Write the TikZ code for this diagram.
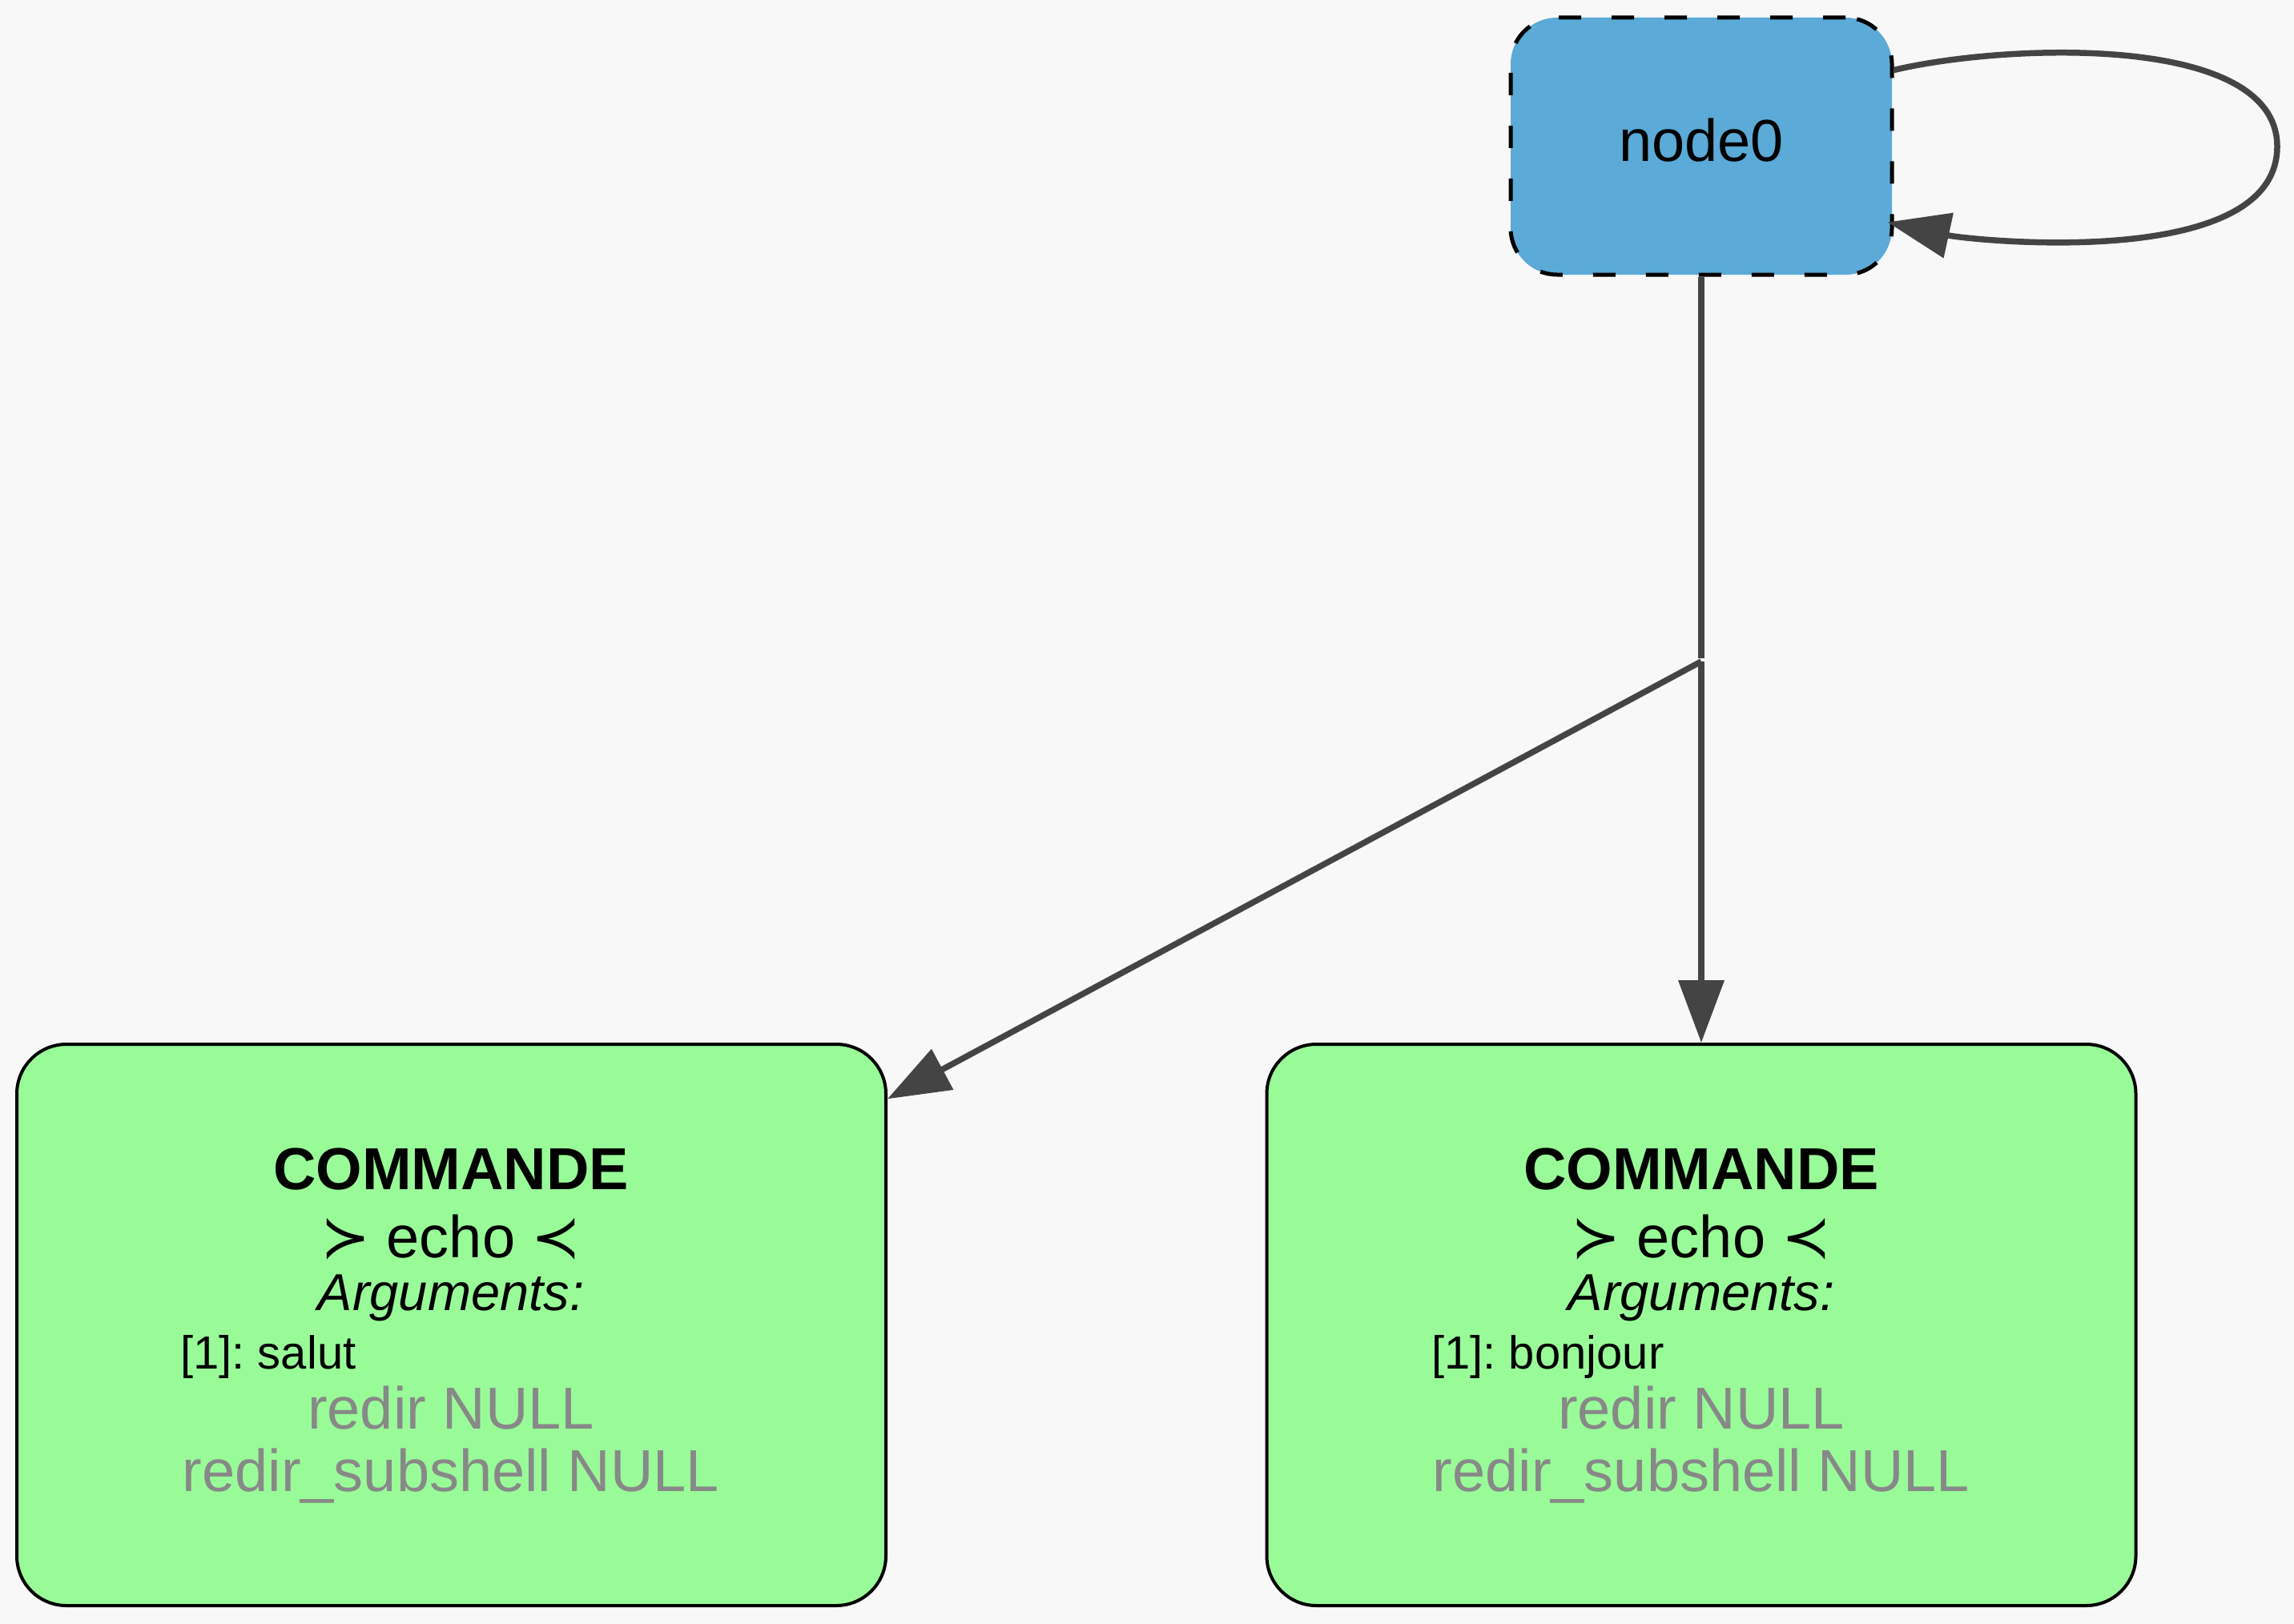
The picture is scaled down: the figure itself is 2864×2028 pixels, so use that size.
\documentclass[tikz,border=0pt]{standalone}
\usepackage{fontspec}
\setmainfont{Liberation Sans}
\newfontfamily\symfont{DejaVu Sans}
\usetikzlibrary{arrows.meta}
\frenchspacing
\definecolor{bg}{HTML}{F8F8F8}
\definecolor{nodeblue}{HTML}{5BAAD7}
\definecolor{cmdgreen}{HTML}{98FB98}
\definecolor{edgegray}{HTML}{444444}
\definecolor{nullgray}{HTML}{888888}
\newcommand{\succsym}{{\symfont ≻}}
\newcommand{\precsym}{{\symfont ≺}}
\begin{document}
\begin{tikzpicture}[x=1pt,y=-1pt,
  edge/.style={draw=edgegray, line width=7.5pt},
  tipped/.style={-{Triangle[length=78pt,width=56pt]}},
  cmdbox/.style={draw=black, line width=4pt, fill=cmdgreen, rounded corners=62pt,
    minimum width=1085pt, minimum height=701pt, inner sep=0pt},
  startbox/.style={fill=nodeblue, draw=black, line width=5pt, dash pattern=on 28pt off 38pt,
    rounded corners=58pt, minimum width=476pt, minimum height=321pt, inner sep=0pt,
    font=\fontsize{74pt}{88pt}\selectfont},
  big/.style={inner sep=0pt, anchor=base, font=\fontsize{74pt}{88pt}\selectfont},
  bigbold/.style={big, font=\fontsize{74pt}{88pt}\selectfont\bfseries},
  argsit/.style={inner sep=0pt, anchor=base, font=\fontsize{65pt}{78pt}\selectfont\itshape},
  argline/.style={inner sep=0pt, anchor=base west, font=\fontsize{58pt}{70pt}\selectfont},
  nullline/.style={big, text=nullgray}
]
\useasboundingbox (0,0) rectangle (2864,2028);
\fill[bg] (0,0) rectangle (2864,2028);

% nodes
\node[startbox] (n0) at (2124,182.5) {};
\node[big] (n0label) at (2124,202) {node0};

\node[cmdbox] (c1) at (563.5,1654.5) {};
\node[cmdbox] (c2) at (2124,1654.5) {};

\coordinate (splittop) at (2124,822);
\coordinate (split) at (2124,826);

% texts of left box
\node[bigbold] (c1t1) at (563,1485) {COMMANDE};
\node[big] (c1t2) at (563,1570) {\succsym{} echo \precsym};
\node[argsit] (c1t3) at (563,1636) {Arguments:};
\node[argline] (c1t4) at (225,1709) {[1]: salut};
\node[nullline] (c1t5) at (563,1784) {redir NULL};
\node[nullline] (c1t6) at (563,1862) {redir\_subshell NULL};

% texts of right box
\node[bigbold] (c2t1) at (2124,1485) {COMMANDE};
\node[big] (c2t2) at (2124,1570) {\succsym{} echo \precsym};
\node[argsit] (c2t3) at (2124,1636) {Arguments:};
\node[argline] (c2t4) at (1787,1709) {[1]: bonjour};
\node[nullline] (c2t5) at (2124,1784) {redir NULL};
\node[nullline] (c2t6) at (2124,1862) {redir\_subshell NULL};

% connectors
\draw[edge] (n0.south) -- (splittop);
\draw[edge,tipped] (split) -- (c1);
\draw[edge,tipped] (split) -- (c2);
\draw[edge,tipped] ([yshift=95pt]n0.east)
  .. controls (2500,55) and (2843,40) .. (2843,183)
  .. controls (2843,340) and (2460,300) .. ([xshift=-8pt,yshift=-95pt]n0.east);
\end{tikzpicture}
\end{document}
